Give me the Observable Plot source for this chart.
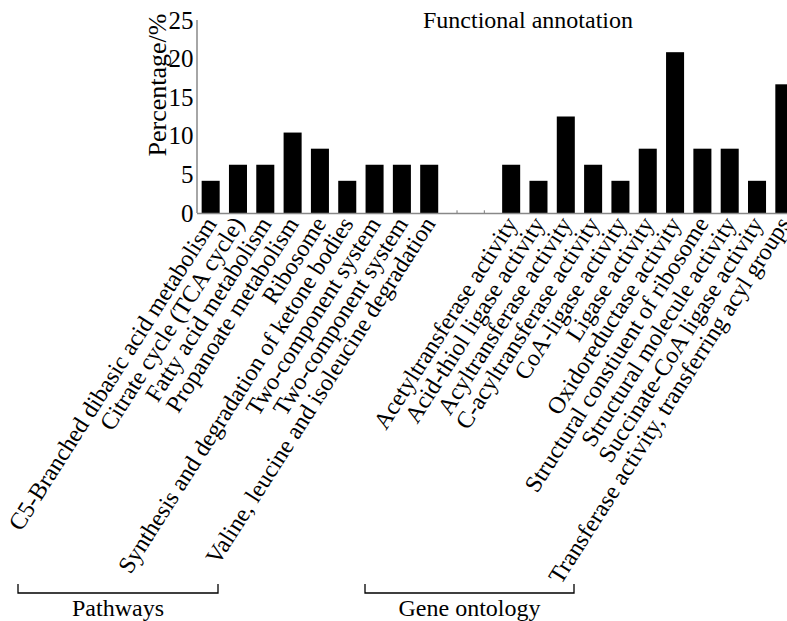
<!DOCTYPE html>
<html>
<head>
<meta charset="utf-8">
<script src="https://cdn.jsdelivr.net/npm/d3@7"></script>
<script src="https://cdn.jsdelivr.net/npm/@observablehq/plot@0.6"></script>
<style>
  html, body { margin: 0; padding: 0; background: #fff; overflow: hidden; }
  #chart { width: 787px; height: 621px; }
</style>
</head>
<body>
<div id="chart"></div>
<script>
// ---- data ----
const pathwayLabels = [
  "C5-Branched dibasic acid metabolism",
  "Citrate cycle (TCA cycle)",
  "Fatty acid metabolism",
  "Propanoate metabolism",
  "Ribosome",
  "Synthesis and degradation of ketone bodies",
  "Two-component system",
  "Two-component system",
  "Valine, leucine and isoleucine degradation"
];
const pathwayValues = [4.17, 6.25, 6.25, 10.42, 8.33, 4.17, 6.25, 6.25, 6.25];

const goLabels = [
  "Acetyltransferase activity",
  "Acid-thiol ligase activity",
  "Acyltransferase activity",
  "C-acyltransferase activity",
  "CoA-ligase activity",
  "Ligase activity",
  "Oxidoreductase activity",
  "Structural constiuent of ribosome",
  "Structural molecule activity",
  "Succinate-CoA ligase activity",
  "Transferase activity, transferring acyl groups"
];
const goValues = [6.25, 4.17, 12.5, 6.25, 4.17, 8.33, 20.83, 8.33, 8.33, 4.17, 16.67];

const gapSlots = ["gap1", "gap2"];
const groupNames = ["Pathways", "Gene ontology"];
const yTicks = [0, 5, 10, 15, 20, 25];
const titleText = "Functional annotation";
const yLabel = "Percentage/%";

// ---- table built from arrays ----
const rows = [
  ...pathwayLabels.map((label, i) => ({key: "P" + i, label, value: pathwayValues[i], group: groupNames[0]})),
  ...goLabels.map((label, i) => ({key: "G" + i, label, value: goValues[i], group: groupNames[1]}))
];
const domain = [...pathwayLabels.map((_, i) => "P" + i), ...gapSlots, ...goLabels.map((_, i) => "G" + i)];
const labelOf = new Map(rows.map(d => [d.key, d.label]));

const FONT = "'Liberation Serif', 'Times New Roman', Times, serif";

const plot = Plot.plot({
  width: 787,
  height: 621,
  marginLeft: 197,
  marginRight: -11,
  marginTop: 20,
  marginBottom: 408,
  style: {fontFamily: FONT, fontSize: "24px", color: "#000", background: "#fff", overflow: "visible"},
  x: {domain, paddingInner: 0.34, paddingOuter: 0.17, round: false, label: null},
  y: {domain: [0, 25], ticks: yTicks, label: null},
  marks: [
    Plot.ruleX(domain, {x: d => d, y1: 0, y2: 0.35, stroke: "#777", strokeWidth: 1}),
    Plot.barY(rows, {x: "key", y: "value", fill: "#000"}),
    Plot.ruleY([0], {stroke: "#888", strokeWidth: 1.5}),
    Plot.axisY({ticks: yTicks, tickSize: 0, tickPadding: 4, label: null, fontSize: 25}),
    Plot.axisX({
      tickSize: 0,
      tickPadding: 6,
      tickRotate: -57.5,
      label: null,
      fontSize: 24,
      tickFormat: k => labelOf.get(k) ?? ""
    }),
    Plot.text([yLabel], {frameAnchor: "top-left", text: d => d, rotate: -90, textAnchor: "end", dx: -50, dy: -7, fontSize: 26}),
    Plot.text([titleText], {frameAnchor: "top", text: d => d, dx: 30, dy: -10, fontSize: 24})
  ]
});

document.getElementById("chart").appendChild(plot);

// y-axis line
const svg = d3.select(plot);
svg.append("line")
  .attr("x1", 197).attr("x2", 197).attr("y1", 20).attr("y2", 213)
  .attr("stroke", "#888").attr("stroke-width", 1.5);

// group brackets (annotations)
const brackets = [
  {name: groupNames[0], x1: 18, x2: 218},
  {name: groupNames[1], x1: 365, x2: 574}
];
const g = svg.append("g").attr("fill", "none").attr("stroke", "#000").attr("stroke-width", 1.3);
brackets.forEach(b => {
  g.append("path").attr("d", `M${b.x1},584V593H${b.x2}V584`);
});
const tg = svg.append("g").attr("font-family", FONT).attr("font-size", 24).attr("text-anchor", "middle").attr("fill", "#000");
brackets.forEach(b => {
  tg.append("text").attr("x", (b.x1 + b.x2) / 2).attr("y", 616).text(b.name);
});
</script>
</body>
</html>
